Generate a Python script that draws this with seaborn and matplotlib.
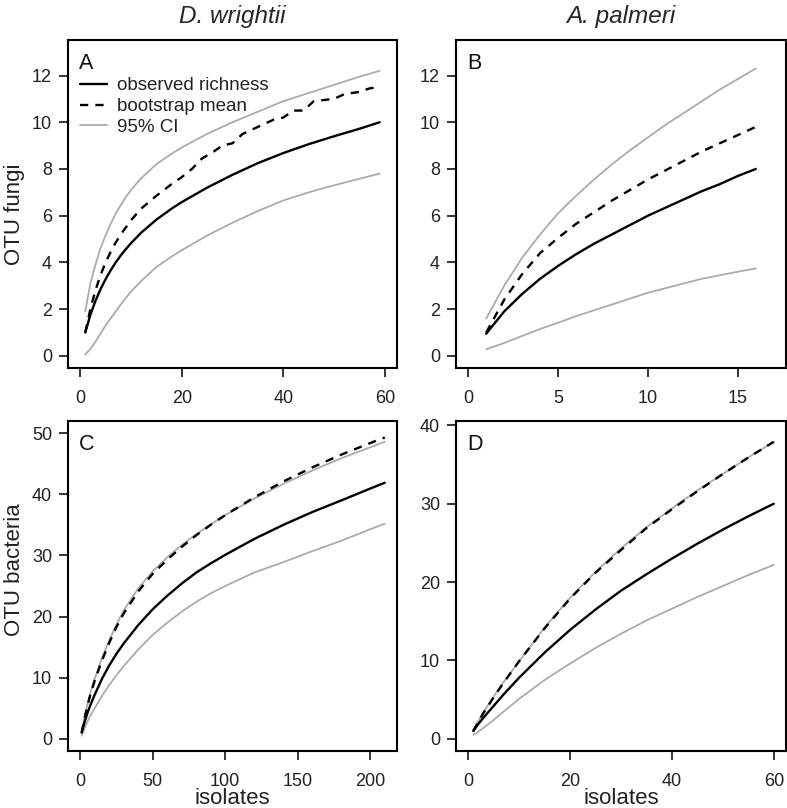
import numpy as np
import pandas as pd
import seaborn as sns
import matplotlib.pyplot as plt
from matplotlib.lines import Line2D

sns.set_style('ticks')
plt.rcParams['font.family'] = ['Liberation Sans', 'DejaVu Sans']

# panel A - D. wrightii fungi
a_x = [1, 2, 3, 4, 5, 6, 7, 8, 9, 10, 12, 15, 18, 20, 25, 30, 35, 40, 45, 50, 55, 59]
a_obs = [1.0, 1.75, 2.35, 2.85, 3.28, 3.66, 4.0, 4.3, 4.57, 4.82, 5.27, 5.83, 6.3, 6.58,
         7.2, 7.75, 8.25, 8.68, 9.06, 9.4, 9.72, 10.0]
a_hi = [1.9, 3.1, 3.9, 4.6, 5.15, 5.65, 6.1, 6.45, 6.8, 7.1, 7.6, 8.2, 8.65, 8.92,
        9.5, 10.0, 10.45, 10.9, 11.25, 11.6, 11.95, 12.2]
a_lo = [0.05, 0.3, 0.6, 0.95, 1.3, 1.6, 1.9, 2.2, 2.48, 2.75, 3.2, 3.8, 4.25, 4.52,
        5.15, 5.7, 6.2, 6.65, 7.0, 7.3, 7.58, 7.8]
a_bx = [1, 2, 3, 4, 5, 6, 7, 8, 10, 12, 15, 18, 20, 22, 24, 26, 28, 30, 32, 34, 36, 38,
        40, 42, 44, 46, 48, 50, 52, 55, 57, 59]
a_boot = [1.0, 2.0, 2.8, 3.45, 4.0, 4.45, 4.85, 5.2, 5.8, 6.3, 6.85, 7.35, 7.65, 8.0, 8.45,
          8.7, 9.0, 9.1, 9.5, 9.7, 9.9, 10.1, 10.2, 10.5, 10.5, 10.9, 10.95, 11.0, 11.2,
          11.3, 11.45, 11.5]

# panel B - A. palmeri fungi
b_x = list(range(1, 17))
b_obs = [0.95, 1.9, 2.65, 3.3, 3.85, 4.35, 4.8, 5.2, 5.6, 6.0, 6.35, 6.7, 7.05, 7.35, 7.7, 8.0]
b_boot = [1.0, 2.4, 3.5, 4.4, 5.05, 5.65, 6.15, 6.65, 7.1, 7.55, 7.95, 8.35, 8.75, 9.1, 9.45, 9.8]
b_hi = [1.6, 3.0, 4.2, 5.2, 6.1, 6.85, 7.55, 8.2, 8.8, 9.35, 9.9, 10.4, 10.9, 11.4, 11.85, 12.3]
b_lo = [0.28, 0.55, 0.85, 1.15, 1.42, 1.7, 1.95, 2.2, 2.45, 2.7, 2.9, 3.1, 3.3, 3.45, 3.6, 3.74]

# panel C - D. wrightii bacteria
c_x = [1, 3, 5, 7, 10, 15, 20, 25, 30, 40, 50, 60, 70, 80, 90, 100, 120, 140, 160, 180, 200, 210]
c_obs = [1.0, 2.7, 4.2, 5.5, 7.2, 9.8, 12.0, 13.9, 15.6, 18.6, 21.2, 23.4, 25.4, 27.2, 28.7,
         30.1, 32.7, 35.0, 37.1, 39.0, 40.95, 41.9]
c_boot = [1.0, 3.3, 5.4, 7.2, 9.5, 12.8, 15.7, 18.3, 20.5, 24.1, 27.0, 29.3, 31.4, 33.3, 35.0,
          36.6, 39.5, 42.1, 44.4, 46.5, 48.4, 49.3]
c_hi = [1.2, 3.6, 5.7, 7.5, 9.8, 13.2, 16.1, 18.7, 21.0, 24.6, 27.4, 29.7, 31.7, 33.5, 35.1,
        36.6, 39.3, 41.7, 43.9, 45.9, 47.7, 48.6]
c_lo = [0.5, 1.7, 2.8, 3.8, 5.0, 7.0, 8.8, 10.4, 11.9, 14.6, 17.0, 19.0, 20.8, 22.4, 23.8,
        25.0, 27.2, 28.9, 30.7, 32.4, 34.3, 35.2]

# panel D - A. palmeri bacteria
d_x = [1, 2, 3, 5, 7, 10, 15, 20, 25, 30, 35, 40, 45, 50, 55, 60]
d_obs = [1.0, 1.9, 2.7, 4.2, 5.7, 7.8, 11.0, 13.9, 16.5, 18.9, 21.0, 23.0, 24.9, 26.7, 28.4, 30.0]
d_boot = [1.0, 2.2, 3.3, 5.3, 7.2, 9.9, 14.1, 17.9, 21.2, 24.1, 26.9, 29.3, 31.6, 33.8, 35.9, 37.9]
d_hi = [1.1, 2.3, 3.4, 5.4, 7.3, 9.9, 14.2, 18.0, 21.3, 24.3, 27.0, 29.4, 31.7, 33.8, 35.9, 37.9]
d_lo = [0.5, 0.9, 1.4, 2.4, 3.5, 5.1, 7.5, 9.6, 11.6, 13.4, 15.1, 16.6, 18.1, 19.5, 20.9, 22.2]

grey = '#ababab'
dash = (0, (3.5, 3))
W, H = 787, 808
fig = plt.figure(figsize=(W / 100, H / 100), dpi=100)


def box(l, r, t, b):
    return [l / W, 1 - b / H, (r - l) / W, (b - t) / H]


axA = fig.add_axes(box(68, 397, 40, 368))
axB = fig.add_axes(box(456, 786, 40, 368))
axC = fig.add_axes(box(68, 397, 421, 751))
axD = fig.add_axes(box(456, 786, 421, 751))


def draw(ax, x, obs, bx, boot, hi, lo):
    sns.lineplot(x=x, y=hi, ax=ax, color=grey, lw=1.3)
    sns.lineplot(x=x, y=lo, ax=ax, color=grey, lw=1.3)
    sns.lineplot(x=x, y=obs, ax=ax, color='black', lw=1.7)
    sns.lineplot(x=bx, y=boot, ax=ax, color='black', lw=1.7, linestyle=dash)


draw(axA, a_x, a_obs, a_bx, a_boot, a_hi, a_lo)
draw(axB, b_x, b_obs, b_x, b_boot, b_hi, b_lo)
draw(axC, c_x, c_obs, c_x, c_boot, c_hi, c_lo)
draw(axD, d_x, d_obs, d_x, d_boot, d_hi, d_lo)

setup = [
    (axA, 60, 13, [0, 20, 40, 60], [0, 2, 4, 6, 8, 10, 12], 'A'),
    (axB, 17, 13, [0, 5, 10, 15], [0, 2, 4, 6, 8, 10, 12], 'B'),
    (axC, 210, 50, [0, 50, 100, 150, 200], [0, 10, 20, 30, 40, 50], 'C'),
    (axD, 60, 39, [0, 20, 40, 60], [0, 10, 20, 30, 40], 'D'),
]
for ax, xm, ym, xt, yt, lab in setup:
    ax.set_xlim(-0.04 * xm, xm * 1.04)
    ax.set_ylim(-0.04 * ym, ym * 1.04)
    ax.set_xticks(xt)
    ax.set_yticks(yt)
    ax.tick_params(labelsize=13, length=6.5, width=1.1, color='black', labelcolor='#222222')
    ax.tick_params(axis='x', pad=9)
    ax.tick_params(axis='y', pad=5)
    for s in ax.spines.values():
        s.set_linewidth(1.5)
        s.set_color('black')
    ax.text(0.033, 0.913, lab, transform=ax.transAxes, fontsize=15.5, va='baseline', ha='left',
            color='#111111')

axA.set_ylabel('OTU fungi', fontsize=16, color='#222222')
axA.yaxis.set_label_coords(-0.131, 0.47)
axC.set_ylabel('OTU bacteria', fontsize=16, color='#222222')
axC.yaxis.set_label_coords(-0.131, 0.55)
for ax in (axC, axD):
    ax.set_xlabel('isolates', fontsize=16, color='#222222', va='top')
    ax.xaxis.set_label_coords(0.5, -0.113)
axA.set_title('D. wrightii', fontsize=17.5, style='italic', pad=12.5)
axB.set_title('A. palmeri', fontsize=17.5, style='italic', pad=12.5)

handles = [
    Line2D([], [], color='black', lw=1.7),
    Line2D([], [], color='black', lw=1.7, linestyle=dash),
    Line2D([], [], color=grey, lw=1.3),
]
axA.legend(handles, ['observed richness', 'bootstrap mean', '95% CI'],
           loc='upper left', bbox_to_anchor=(0.036, 0.887), frameon=False,
           borderpad=0, borderaxespad=0, fontsize=13.5, handlelength=1.45,
           handletextpad=0.55, labelspacing=0.2, labelcolor='#222222')

fig.savefig('out.png', dpi=100)
